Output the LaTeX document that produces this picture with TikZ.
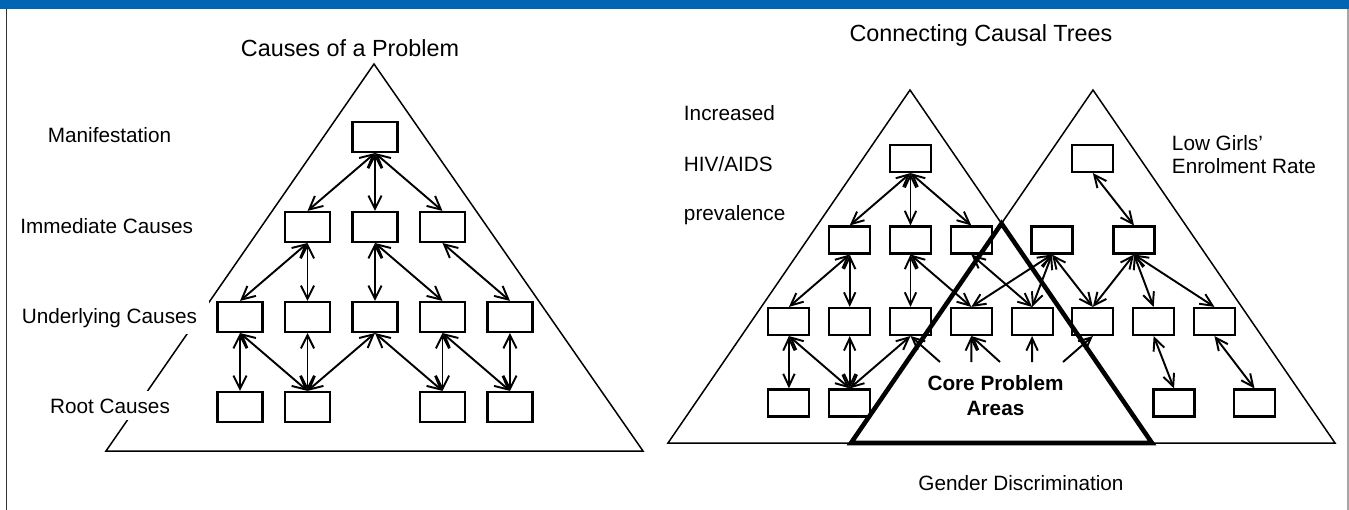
\documentclass[tikz,border=0pt]{standalone}
\usepackage{fontspec}
\setmainfont{Liberation Sans}
\usetikzlibrary{positioning,arrows.meta}
\definecolor{barblue}{RGB}{0,102,179}
\tikzset{
  >={Straight Barb[length=7.5pt,width=7.5pt]},
  cbox/.style={draw, line width=1.2pt, inner sep=0pt, minimum width=0.9cm, minimum height=0.6cm},
  sbox/.style={cbox, minimum width=0.82cm, minimum height=0.54cm},
  tri/.style={draw, line width=0.85pt, line join=miter},
  lbl/.style={font=\fontsize{11.8}{14}\selectfont, anchor=base, inner sep=0pt},
  cut/.style={fill=white, inner xsep=7pt, inner ysep=4pt},
  ttl/.style={font=\fontsize{13.3}{16}\selectfont, anchor=base, inner sep=0pt},
  small tips/.style={>={Straight Barb[length=7pt,width=6.5pt]}},
}

\begin{document}
\begin{tikzpicture}[x=0.02cm, y=-0.02cm, line width=1.1pt, on grid]
  \useasboundingbox (0,0) rectangle (1349,510);
  % frame
  \fill[barblue] (0,0) rectangle (1349,9);
  \draw[line width=1.1pt, black!80] (6.5,9) -- (6.5,510);
  \draw[line width=0.6pt, black!35] (1348,9) -- (1348,510);

  % causes of a problem
  \draw[tri] (374,64) -- (643,451) -- (106,451) -- cycle;
  \node[ttl] (t1) at (350,56.7) {Causes of a Problem};
  \node[lbl]      (man) at (109.5,143) {Manifestation};
  \node[lbl]      (imm) at (106.7,233) {Immediate Causes};
  \node[lbl, cut] (und) at (109.5,323) {Underlying Causes};
  \node[lbl, cut] (roo) at (110,413)   {Root Causes};

  \node[cbox] (M)  at (375,137) {};
  \node[cbox] (I2) [below=1.8cm of M] {};
  \node[cbox] (I1) [left=1.35cm of I2] {};
  \node[cbox] (I3) [right=1.35cm of I2] {};
  \node[cbox] (U3) [below=1.8cm of I2] {};
  \node[cbox] (U2) [left=1.35cm of U3] {};
  \node[cbox] (U1) [left=1.35cm of U2] {};
  \node[cbox] (U4) [right=1.35cm of U3] {};
  \node[cbox] (U5) [right=1.35cm of U4] {};
  \node[cbox] (C1) [below=1.8cm of U1] {};
  \node[cbox] (C2) [below=1.8cm of U2] {};
  \node[cbox] (C3) [below=1.8cm of U4] {};
  \node[cbox] (C4) [below=1.8cm of U5] {};

  \path[<->]
    (M.south)  edge (I1.north)
    (M.south)  edge (I2.north)
    (M.south)  edge (I3.north)
    (I1.south) edge (U1.north)
    (I1.south) edge (U2.north)
    (I2.south) edge (U3.north)
    (I2.south) edge (U4.north)
    (I3.south) edge (U5.north)
    (U1.south) edge (C1.north)
    (U1.south) edge (C2.north)
    (U2.south) edge (C2.north)
    (U3.south) edge (C2.north)
    (U3.south) edge (C3.north)
    (U4.south) edge (C3.north)
    (U4.south) edge (C4.north)
    (U5.south) edge (C4.north);

  % connecting causal trees
  \draw[tri] (910,90) -- (1152,443) -- (668,443) -- cycle;
  \draw[tri] (1093,90) -- (1335,443) -- (851,443) -- cycle;
  \node[ttl] (t2) at (981,42) {Connecting Causal Trees};
  \node[lbl, anchor=base west] (inc)  at (683,121)   {Increased};
  \node[lbl, anchor=base west] (hiv)  at (683,171.5) {HIV/AIDS};
  \node[lbl, anchor=base west] (prev) at (683,220.5) {prevalence};
  \node[lbl, anchor=north west, align=left, font=\fontsize{11.8}{12.7}\selectfont]
    (low) at (1171,135) {Low Girls'\\Enrolment Rate};
  \node[lbl] (gen) at (1021,490) {Gender Discrimination};
  \node[lbl, anchor=north, align=center, font=\bfseries\fontsize{11.8}{14.2}\selectfont]
    (core) at (995.5,375) {Core Problem\\Areas};

  \node[sbox] (H0) at (910.5,158.5) {};
  \node[sbox] (H2) [below=1.63cm of H0] {};
  \node[sbox] (H1) [left=1.216cm of H2] {};
  \node[sbox] (H3) [right=1.216cm of H2] {};
  \node[sbox] (S3) [below=1.63cm of H2] {};
  \node[sbox] (S2) [left=1.216cm of S3] {};
  \node[sbox] (S1) [left=1.216cm of S2] {};
  \node[sbox] (S4) [right=1.216cm of S3] {};
  \node[sbox] (S5) [right=1.216cm of S4] {};
  \node[sbox] (S6) [right=1.216cm of S5] {};
  \node[sbox] (S7) [right=1.216cm of S6] {};
  \node[sbox] (S8) [right=1.216cm of S7] {};
  \node[sbox] (H4) [below=1.63cm of S1] {};
  \node[sbox] (H5) [below=1.63cm of S2] {};
  \node[sbox] (G0) [above=3.26cm of S6] {};
  \node[sbox] (G1) at (1052,240) {};
  \node[sbox] (G2) at (1134,240) {};
  \node[sbox] (G4) at (1174,403) {};
  \node[sbox] (G5) at (1254.5,403) {};

  \path[<->, small tips]
    (H0.south) edge (H1.north)
    (H0.south) edge (H2.north)
    (H0.south) edge (H3.north)
    (H1.south) edge (S1.north)
    (H1.south) edge (S2.north)
    (H2.south) edge (S3.north)
    (H2.south) edge (S4.north)
    (H3.south) edge (S5.north)
    (S1.south) edge (H4.north)
    (S1.south) edge (H5.north)
    (S2.south) edge (H5.north)
    (S3.south) edge (H5.north)
    (G0.south) edge (G2.north)
    (G1.south) edge (S4.north)
    (G1.south) edge (S5.north)
    (G1.south) edge (S6.north)
    (G2.south) edge (S6.north)
    (G2.south) edge (S7.north)
    (G2.south) edge (S8.north)
    (S7.south) edge (G4.north)
    (S8.south) edge (G5.north);

  % arrows up from the core area
  \coordinate (k1) at (940,362);
  \coordinate (k2) at (971.3,362);
  \coordinate (k3) at (1000,362);
  \coordinate (k4) at (1032.1,362);
  \coordinate (k5) at (1063,362);
  \path[->, small tips]
    (k1) edge (S3.south)
    (k2) edge (S4.south)
    (k3) edge (S4.south)
    (k4) edge (S5.south)
    (k5) edge (S6.south);

  % shared core triangle
  \draw[line width=2.6pt, line join=miter] (1001.5,223.5) -- (1152,443) -- (851,443) -- cycle;
\end{tikzpicture}
\end{document}
